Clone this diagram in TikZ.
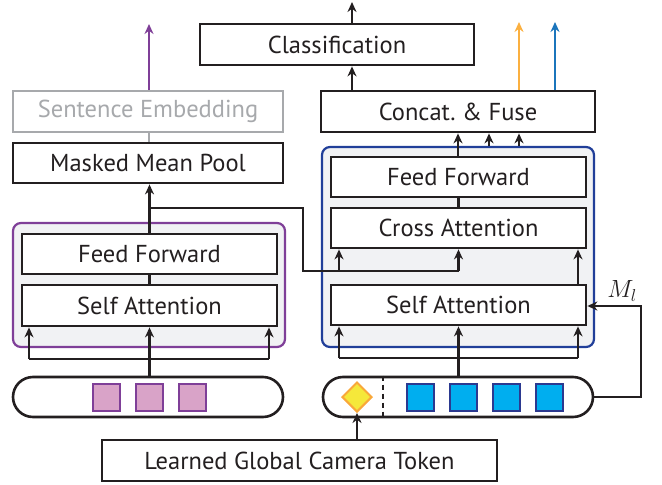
\documentclass[tikz,border=0pt]{standalone}
\usepackage{fontspec}
\setmainfont{PT Sans}
\usetikzlibrary{arrows.meta,shapes.geometric,calc}
\definecolor{txt}{HTML}{231F20}
\definecolor{purp}{HTML}{7F3F98}
\definecolor{purpfill}{HTML}{D9A3C8}
\definecolor{navy}{HTML}{213F99}
\definecolor{cyanfill}{HTML}{00AEEF}
\definecolor{sqborder}{HTML}{2B3990}
\definecolor{orng}{HTML}{FBB040}
\definecolor{blu}{HTML}{1B75BC}
\definecolor{bgfill}{HTML}{F1F2F4}
\definecolor{grayse}{HTML}{A7A9AC}
\definecolor{dyellow}{HTML}{F5E83A}
\definecolor{dorange}{HTML}{F9A83A}
\tikzset{
  box/.style={draw=txt,line width=2.8pt,fill=white,minimum width=255pt,minimum height=40pt,inner sep=0pt,text=txt,font=\fontsize{24.5}{28}\selectfont},
  block/.style={rounded corners=8pt,line width=2.2pt,fill=bgfill,inner sep=0pt},
  bar/.style={draw=txt,line width=2.6pt,rounded corners=20pt,minimum width=270pt,minimum height=40pt,inner sep=0pt},
  arr/.style={draw=txt,line width=2.2pt,-{Stealth[length=10pt,width=9pt]}},
  ln/.style={draw=txt,line width=2.2pt},
  psq/.style={draw=purp,fill=purpfill,line width=2pt,minimum size=27pt,inner sep=0pt},
  bsq/.style={draw=sqborder,fill=cyanfill,line width=2pt,minimum size=27pt,inner sep=0pt},
}
\begin{document}
\begin{tikzpicture}[x=1pt,y=-1pt]
\useasboundingbox (0,0) rectangle (662,485);
% blocks
\node[block,draw=purp,minimum width=272pt,minimum height=124pt] (lbox) at (149,285) {};
\node[block,draw=navy,minimum width=272pt,minimum height=200pt] (rbox) at (458,247) {};
% top boxes
\node[box,minimum width=274pt,minimum height=41pt] (cls) at (337,44.5) {Classification};
\node[box,minimum width=274pt,minimum height=41pt] (cat) at (458,111.5) {Concat.\ \& Fuse};
\node[box,draw=grayse,text=grayse,minimum width=270pt,minimum height=41pt] (se) at (148,111.5) {Sentence Embedding};
\node[box,minimum width=270pt] (mmp) at (148,163) {Masked Mean Pool};
% left block
\node[box] (lff) at (149.5,254) {Feed Forward};
\node[box,minimum height=41pt] (lsa) at (149.5,305.5) {Self Attention};
% right block
\node[box] (rff) at (458.5,177) {Feed Forward};
\node[box] (rca) at (458.5,228) {Cross Attention};
\node[box] (rsa) at (458.5,305) {Self Attention};
% token bars
\node[bar] (ltok) at (148,397) {};
\node[bar] (rtok) at (458,397) {};
\node[psq] (p1) at (106,397) {};
\node[psq] (p2) at (149,397) {};
\node[psq] (p3) at (192,397) {};
\node[bsq] (b1) at (420,397) {};
\node[bsq] (b2) at (463,397) {};
\node[bsq] (b3) at (506,397) {};
\node[bsq] (b4) at (549,397) {};
\node[diamond,draw=dorange,fill=dyellow,line width=2pt,minimum width=30pt,minimum height=30pt,inner sep=0pt] (dia) at (357,397) {};
\draw[txt,line width=2.2pt,dash pattern=on 5pt off 4pt] (rtok.north -| 383,0) coordinate (dtop) -- (rtok.south -| 383,0) coordinate (dbot);
% camera token
\node[box,minimum width=395pt,minimum height=41pt] (cam) at (299.5,460.5) {Learned Global Camera Token};
% free ends
\coordinate (topend) at (352,2);
\coordinate (purpend) at (149,24);
\coordinate (orend) at (519,22);
\coordinate (bluend) at (555,22);
% top arrows
\draw[arr] ([xshift=15pt]cls.north) -- (topend);
\draw[arr] ([xshift=-106pt]cat.north) -- ([xshift=15pt]cls.south);
\draw[arr,draw=orng,color=orng] ([xshift=61pt]cat.north) -- (orend);
\draw[arr,draw=blu,color=blu] ([xshift=97pt]cat.north) -- (bluend);
\draw[arr,draw=purp,color=purp] ([xshift=1pt]se.north) -- (purpend);
\draw[ln,draw=grayse] ([xshift=1pt]se.south) -- ([xshift=1pt]mmp.south |- mmp.north);
% concat inputs
\draw[arr] (rff.north -| cat.south) -- (cat.south);
\draw[arr] ([xshift=31pt]rbox.north) -- ([xshift=31pt]cat.south);
\draw[arr] ([xshift=61pt]rbox.north) -- ([xshift=61pt]cat.south);
% left stack
\draw[ln] (lsa.north) -- (lff.south);
\draw[arr] (lff.north) -- (lff.north |- mmp.south);
\draw[ln] (149.5,208) -- (303,208) -- (303,271) -- (458.5,271);
\draw[arr] (458.5,271) -- (rca.south);
\draw[arr] (339,271) -- (rca.south -| 339,0);
% right stack
\draw[ln] (rca.north) -- (rff.south);
\draw[arr] (rsa.north -| 578,0) -- (rca.south -| 578,0);
% left inputs
\draw[arr] (ltok.north -| lsa.south) -- (lsa.south);
\draw[ln] (29,359) -- (269,359);
\draw[arr] (29,359) -- (lsa.south -| 29,0);
\draw[arr] (269,359) -- (lsa.south -| 269,0);
% right inputs
\draw[arr] (rtok.north -| rsa.south) -- (rsa.south);
\draw[ln] (339,358) -- (578,358);
\draw[arr] (339,358) -- (rsa.south -| 339,0);
\draw[arr] (578,358) -- (rsa.south -| 578,0);
% M_l loop
\draw[arr] (rtok.east) -- (641,397) -- (641,306) -- (rsa.east |- 0,306);
\node[text=txt,font=\fontsize{24}{28}\selectfont] (ml) at (622,291) {$M_l$};
% camera token arrow
\draw[arr] (cam.north -| dia.south) -- (dia.south);
\end{tikzpicture}
\end{document}
